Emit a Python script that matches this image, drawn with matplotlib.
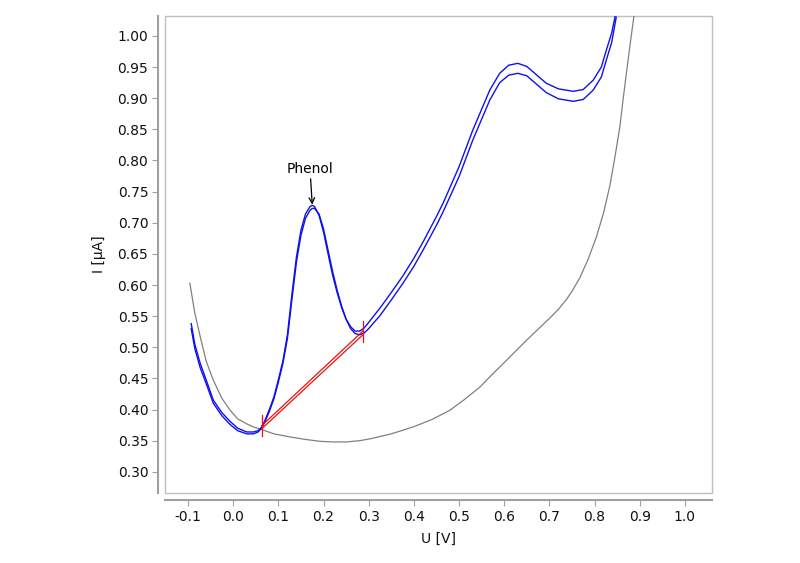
import matplotlib
matplotlib.use("Agg")
import matplotlib.pyplot as plt
from matplotlib.patches import Rectangle

# ---- data ----
blank_x = [-0.096, -0.085, -0.073, -0.06, -0.044, -0.025, -0.007, 0.01, 0.030, 0.045,
           0.063, 0.09, 0.126, 0.16, 0.192, 0.22, 0.251, 0.28, 0.303, 0.35,
           0.398, 0.44, 0.480, 0.51, 0.546, 0.57, 0.598, 0.62, 0.649, 0.675,
           0.701, 0.72, 0.738, 0.75, 0.767, 0.785, 0.804, 0.82, 0.834, 0.845,
           0.856, 0.863, 0.871, 0.879, 0.887]
blank_y = [0.603, 0.555, 0.517, 0.478, 0.447, 0.418, 0.399, 0.385, 0.377, 0.372,
           0.368, 0.361, 0.356, 0.352, 0.349, 0.348, 0.348, 0.350, 0.353, 0.361,
           0.372, 0.384, 0.399, 0.415, 0.436, 0.454, 0.474, 0.490, 0.511, 0.529,
           0.547, 0.561, 0.577, 0.590, 0.611, 0.640, 0.677, 0.716, 0.760, 0.805,
           0.854, 0.897, 0.943, 0.988, 1.031]

sample_x = [-0.093, -0.085, -0.073, -0.06, -0.044, -0.025, -0.007, 0.01, 0.03, 0.045,
            0.055, 0.063, 0.07, 0.08, 0.09, 0.10, 0.11, 0.12, 0.13, 0.14,
            0.15, 0.16, 0.17, 0.175, 0.18, 0.19, 0.20, 0.21, 0.22, 0.23,
            0.24, 0.25, 0.26, 0.27, 0.28, 0.29, 0.30, 0.325, 0.35, 0.376,
            0.40, 0.421, 0.45, 0.465, 0.50, 0.53, 0.568, 0.59, 0.61, 0.63,
            0.65, 0.693, 0.72, 0.753, 0.775, 0.797, 0.815, 0.826, 0.838, 0.848]
sample1_y = [0.538, 0.505, 0.474, 0.448, 0.415, 0.395, 0.381, 0.370, 0.364, 0.364,
             0.366, 0.372, 0.382, 0.400, 0.420, 0.448, 0.478, 0.520, 0.585, 0.645,
             0.688, 0.714, 0.726, 0.728, 0.726, 0.712, 0.685, 0.650, 0.616, 0.588,
             0.564, 0.545, 0.533, 0.526, 0.526, 0.531, 0.540, 0.563, 0.588, 0.615,
             0.643, 0.670, 0.710, 0.732, 0.790, 0.848, 0.913, 0.940, 0.953, 0.956,
             0.951, 0.924, 0.915, 0.911, 0.914, 0.929, 0.950, 0.977, 1.005, 1.040]
sample2_y = [0.530, 0.498, 0.467, 0.442, 0.410, 0.390, 0.376, 0.366, 0.361, 0.361,
             0.364, 0.370, 0.380, 0.397, 0.417, 0.444, 0.474, 0.514, 0.577, 0.637,
             0.680, 0.707, 0.720, 0.723, 0.723, 0.714, 0.690, 0.656, 0.622, 0.592,
             0.566, 0.545, 0.530, 0.522, 0.520, 0.523, 0.530, 0.551, 0.576, 0.603,
             0.630, 0.657, 0.696, 0.718, 0.774, 0.832, 0.897, 0.925, 0.937, 0.940,
             0.936, 0.909, 0.899, 0.895, 0.898, 0.913, 0.934, 0.961, 0.990, 1.030]

baseline1_x = [0.063, 0.287]
baseline1_y = [0.374, 0.526]
baseline2_x = [0.063, 0.287]
baseline2_y = [0.369, 0.520]

peak_label = "Phenol"
peak_x, peak_y = 0.175, 0.729
label_y = 0.775

x_ticks = [-0.1, 0.0, 0.1, 0.2, 0.3, 0.4, 0.5, 0.6, 0.7, 0.8, 0.9, 1.0]
y_ticks = [0.30, 0.35, 0.40, 0.45, 0.50, 0.55, 0.60, 0.65, 0.70, 0.75, 0.80, 0.85,
           0.90, 0.95, 1.00]

# ---- figure ----
plt.rcParams['font.family'] = ['DejaVu Sans']
fig = plt.figure(figsize=(8.0, 5.63), dpi=100)
ax = fig.add_axes([165/800, 70/563, 547/800, 477/563])
ax.set_xlim(-0.151, 1.060)
ax.set_ylim(0.266, 1.032)

ax.plot(blank_x, blank_y, color='#808080', lw=0.9)
ax.plot(sample_x, sample1_y, color='#1010ee', lw=1.0)
ax.plot(sample_x, sample2_y, color='#1010ee', lw=1.0)
ax.plot(baseline1_x, baseline1_y, color='#ee1010', lw=0.9)
ax.plot(baseline2_x, baseline2_y, color='#ee1010', lw=0.9)
for bx, by in [(baseline1_x[0], baseline1_y[0]), (baseline1_x[1], baseline1_y[1])]:
    ax.plot([bx, bx], [by - 0.017, by + 0.017], color='#ee1010', lw=0.9)

ax.annotate(peak_label, xy=(peak_x, peak_y), xytext=(peak_x - 0.005, label_y),
            ha='center', va='bottom', fontsize=10, color='black',
            arrowprops=dict(arrowstyle='->', color='black', lw=0.9,
                            shrinkA=0, shrinkB=0))

# frame box
ax.add_patch(Rectangle((0, 0), 1, 1, transform=ax.transAxes, fill=False,
                       edgecolor='#c0c0c0', lw=1.0, clip_on=False))
for s in ['top', 'right']:
    ax.spines[s].set_visible(False)
for s in ['left', 'bottom']:
    ax.spines[s].set_position(('outward', 5))
    ax.spines[s].set_color('#a0a0a0')
    ax.spines[s].set_linewidth(1.5)

ax.set_xticks(x_ticks)
ax.set_xticklabels([f"{v:.1f}" for v in x_ticks])
ax.set_yticks(y_ticks)
ax.set_yticklabels([f"{v:.2f}" for v in y_ticks])
ax.tick_params(axis='both', labelsize=10, colors='#a0a0a0', labelcolor='#111111',
               length=4, width=0.8, pad=3)
ax.set_xlabel("U [V]", fontsize=10, color='#111111', labelpad=6)
ax.set_ylabel("I [µA]", fontsize=10, color='#111111', labelpad=8)

fig.savefig("out.png", dpi=100, facecolor='white')
